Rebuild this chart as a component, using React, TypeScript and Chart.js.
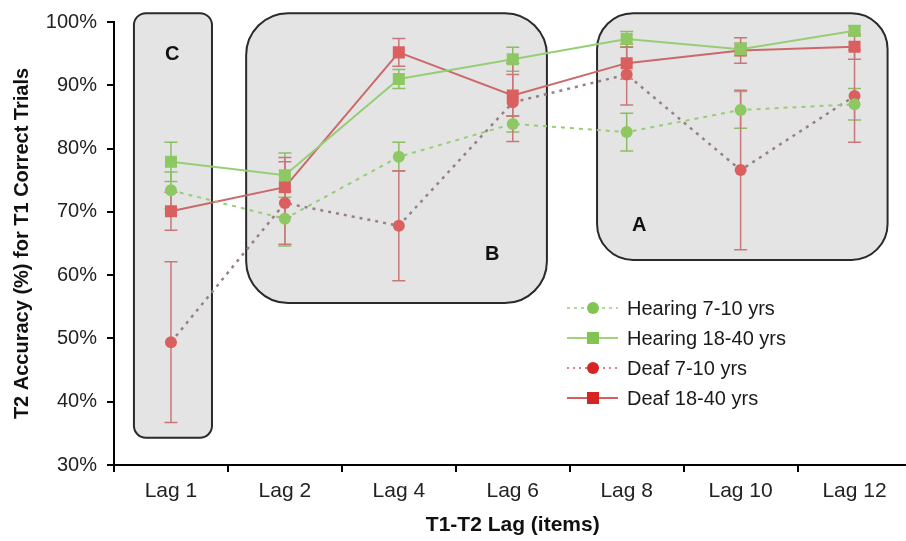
import React, { useEffect, useRef } from "react";
import { Chart, registerables } from "chart.js";

Chart.register(...registerables);

const lagLabels = ["Lag 1", "Lag 2", "Lag 4", "Lag 6", "Lag 8", "Lag 10", "Lag 12"];
const yTicks = [30, 40, 50, 60, 70, 80, 90, 100];

const hearing710 = [73.4, 68.9, 78.7, 83.9, 82.6, 86.1, 87.0];
const hearing710Err = [2.9, 4.3, 2.3, 1.3, 3.0, 2.9, 2.5];
const hearing1840 = [77.9, 75.8, 91.0, 94.1, 97.3, 95.7, 98.6];
const hearing1840Err = [3.1, 3.5, 1.5, 1.9, 1.2, 1.0, 0.8];
const deaf710 = [49.4, 71.4, 67.8, 87.3, 91.7, 76.6, 88.3];
const deaf710Err = [12.7, 6.5, 8.7, 6.2, 4.8, 12.6, 7.3];
const deaf1840 = [70.1, 73.9, 95.2, 88.4, 93.5, 95.5, 96.1];
const deaf1840Err = [3.0, 4.7, 2.2, 3.3, 2.5, 2.0, 2.0];

const seriesNames = ["Hearing 7-10 yrs", "Hearing 18-40 yrs", "Deaf 7-10 yrs", "Deaf 18-40 yrs"];
const boxLetters = ["C", "B", "A"];

const FONT = "'Liberation Sans', Arial, sans-serif";
const GREEN = "rgb(141,200,98)";
const GREEN_LINE = "rgb(150,206,118)";
const GREEN_ERR = "rgb(138,190,100)";
const RED = "rgb(218,96,96)";
const RED_LINE = "rgb(204,104,106)";
const RED_ERR = "rgb(200,120,122)";
const DOT_GRAY = "rgb(150,128,132)";

export default function App() {
  const ref = useRef<HTMLCanvasElement | null>(null);

  useEffect(() => {
    if (!ref.current) return;
    const errs = [hearing710Err, hearing1840Err, deaf710Err, deaf1840Err];
    const errColors = [GREEN_ERR, GREEN_ERR, RED_ERR, RED_ERR];

    // boxes in data units: [xFrom, xTo, yTop, yBottom, radius, labelX, labelY]
    const boxes = [
      { x0: -0.325, x1: 0.36, y0: 101.4, y1: 34.3, r: 12, lx: 0.01, ly: 94.8 },
      { x0: 0.66, x1: 3.3, y0: 101.4, y1: 55.6, r: 42, lx: 2.82, ly: 63.2 },
      { x0: 3.74, x1: 6.29, y0: 101.4, y1: 62.4, r: 36, lx: 4.11, ly: 67.9 },
    ];

    const bgPlugin = {
      id: "bgBoxes",
      beforeDatasetsDraw(chart: any) {
        const ctx = chart.ctx;
        const xs = chart.scales.x;
        const ys = chart.scales.y;
        ctx.save();
        boxes.forEach((b, i) => {
          const l = xs.getPixelForValue(b.x0);
          const r = xs.getPixelForValue(b.x1);
          const t = ys.getPixelForValue(b.y0);
          const bt = ys.getPixelForValue(b.y1);
          ctx.beginPath();
          ctx.roundRect(l, t, r - l, bt - t, b.r);
          ctx.fillStyle = "rgb(228,228,228)";
          ctx.fill();
          ctx.lineWidth = 2;
          ctx.strokeStyle = "#2a2a2a";
          ctx.stroke();
          ctx.fillStyle = "#111";
          ctx.font = `bold 20px ${FONT}`;
          ctx.textAlign = "center";
          ctx.textBaseline = "middle";
          ctx.fillText(boxLetters[i], xs.getPixelForValue(b.lx), ys.getPixelForValue(b.ly));
        });
        // error bars
        chart.data.datasets.forEach((ds: any, di: number) => {
          ctx.strokeStyle = errColors[di];
          ctx.lineWidth = 1.5;
          ds.data.forEach((v: number, j: number) => {
            const e = errs[di][j];
            const x = xs.getPixelForValue(j);
            const yt = ys.getPixelForValue(v + e);
            const yb = ys.getPixelForValue(v - e);
            ctx.beginPath();
            ctx.moveTo(x, yt);
            ctx.lineTo(x, yb);
            ctx.moveTo(x - 6.5, yt);
            ctx.lineTo(x + 6.5, yt);
            ctx.moveTo(x - 6.5, yb);
            ctx.lineTo(x + 6.5, yb);
            ctx.stroke();
          });
        });
        ctx.restore();
      },
    };

    const legendPlugin = {
      id: "customLegend",
      afterDraw(chart: any) {
        const ctx = chart.ctx;
        const items = [
          { color: "rgb(130,196,82)", lineColor: "rgb(150,205,120)", dash: [3, 4], style: "circle" },
          { color: "rgb(130,196,82)", lineColor: "rgb(130,196,82)", dash: [], style: "rect" },
          { color: "rgb(214,36,36)", lineColor: "rgb(200,90,90)", dash: [2, 4], style: "circle" },
          { color: "rgb(214,36,36)", lineColor: "rgb(200,40,40)", dash: [], style: "rect" },
        ];
        ctx.save();
        items.forEach((it, i) => {
          const y = 308 + i * 30;
          ctx.beginPath();
          ctx.setLineDash(it.dash);
          ctx.strokeStyle = it.lineColor;
          ctx.lineWidth = 1.5;
          ctx.moveTo(567, y);
          ctx.lineTo(618, y);
          ctx.stroke();
          ctx.setLineDash([]);
          ctx.fillStyle = it.color;
          ctx.beginPath();
          if (it.style === "circle") ctx.arc(593, y, 6, 0, Math.PI * 2);
          else ctx.rect(587, y - 6, 12, 12);
          ctx.fill();
          ctx.fillStyle = "#1a1a1a";
          ctx.font = `20px ${FONT}`;
          ctx.textAlign = "left";
          ctx.textBaseline = "middle";
          ctx.fillText(seriesNames[i], 627, y + 1);
        });
        ctx.restore();
      },
    };

    const chart = new Chart(ref.current, {
      type: "line",
      data: {
        labels: lagLabels,
        datasets: [
          {
            label: seriesNames[0],
            data: hearing710,
            borderColor: GREEN_LINE,
            borderDash: [4, 5],
            borderWidth: 2,
            pointStyle: "circle",
            pointRadius: 6,
            pointBackgroundColor: GREEN,
            pointBorderWidth: 0,
            tension: 0,
          },
          {
            label: seriesNames[1],
            data: hearing1840,
            borderColor: GREEN_LINE,
            borderWidth: 2,
            pointStyle: "rect",
            pointRadius: 8.5,
            pointBackgroundColor: GREEN,
            pointBorderWidth: 0,
            tension: 0,
          },
          {
            label: seriesNames[2],
            data: deaf710,
            borderColor: DOT_GRAY,
            borderDash: [3, 5],
            borderWidth: 2.5,
            pointStyle: "circle",
            pointRadius: 6,
            pointBackgroundColor: RED,
            pointBorderWidth: 0,
            tension: 0,
          },
          {
            label: seriesNames[3],
            data: deaf1840,
            borderColor: RED_LINE,
            borderWidth: 2,
            pointStyle: "rect",
            pointRadius: 8.5,
            pointBackgroundColor: RED,
            pointBorderWidth: 0,
            tension: 0,
          },
        ],
      },
      options: {
        animation: false,
        responsive: true,
        maintainAspectRatio: false,
        layout: { padding: { top: 22, right: 8, bottom: 0, left: 0 } },
        plugins: { legend: { display: false }, tooltip: { enabled: false } },
        scales: {
          x: {
            type: "category",
            offset: true,
            grid: { display: true, offset: true, drawOnChartArea: false, drawTicks: true, tickLength: 7, color: "#000", lineWidth: 2 },
            border: { display: true, color: "#000", width: 2 },
            ticks: { font: { family: FONT, size: 21 }, color: "#222", padding: 7, maxRotation: 0 },
            title: { display: true, text: "T1-T2 Lag (items)", font: { family: FONT, size: 21, weight: "bold" }, color: "#111", padding: { top: 0, bottom: 3 } },
            afterFit(scale: any) {
              scale.height = 76;
            },
          },
          y: {
            min: 30,
            max: 100,
            afterBuildTicks(scale: any) {
              scale.ticks = yTicks.map((v) => ({ value: v }));
            },
            grid: { display: true, drawOnChartArea: false, drawTicks: true, tickLength: 7, color: "#000", lineWidth: 2 },
            border: { display: true, color: "#000", width: 2 },
            ticks: { font: { family: FONT, size: 20 }, color: "#222", padding: 10, callback: (v: any) => `${v}%` },
            title: { display: true, text: "T2 Accuracy (%) for T1 Correct Trials", font: { family: FONT, size: 20, weight: "bold" }, color: "#111", padding: { top: 10, bottom: 0 } },
            afterFit(scale: any) {
              scale.width = 114;
            },
          },
        },
      },
      plugins: [bgPlugin, legendPlugin],
    });
    return () => chart.destroy();
  }, []);

  return (
    <div style={{ position: "fixed", left: 0, top: 0, width: 906, height: 541, overflow: "hidden", background: "#fff" }}>
      <div style={{ position: "relative", width: 920, height: 541 }}>
        <canvas ref={ref} />
      </div>
    </div>
  );
}
